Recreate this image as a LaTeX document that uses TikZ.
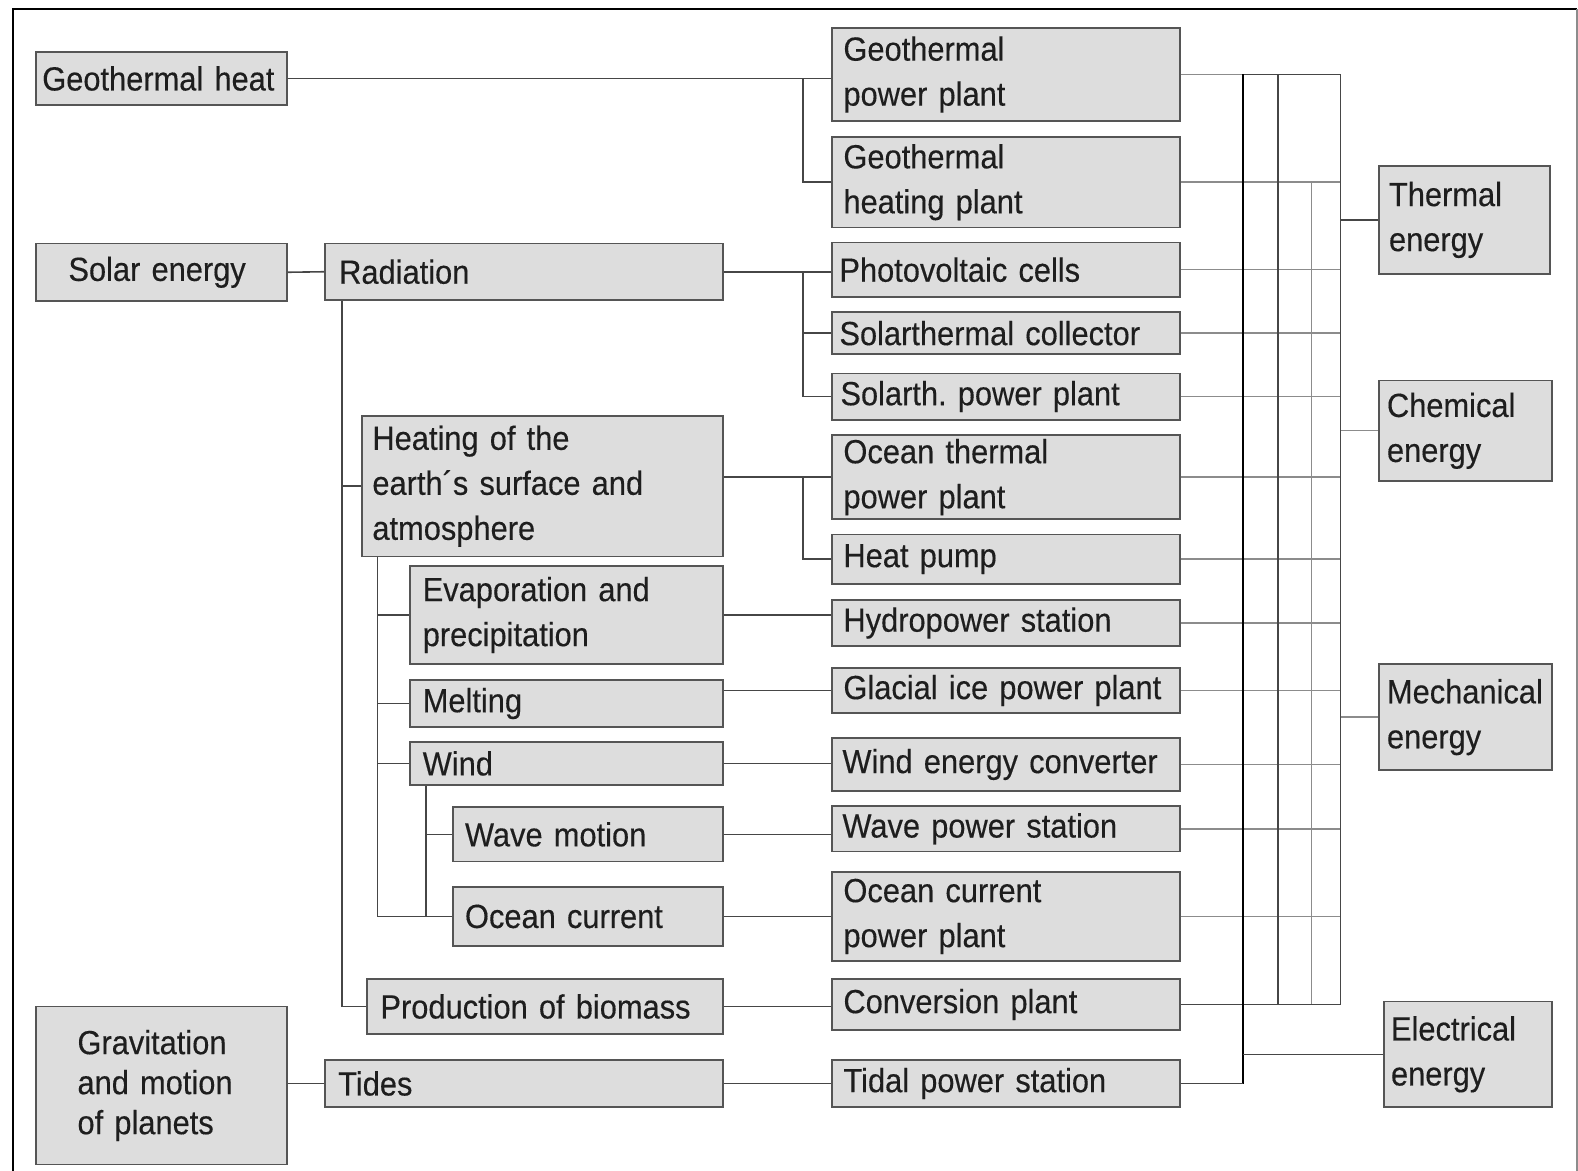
\documentclass[tikz,border=0pt]{standalone}
\usepackage{fontspec}
\setmainfont{Liberation Sans}[FakeStretch=0.92, FakeBold=0.3]
\frenchspacing
\definecolor{boxfill}{RGB}{221,221,221}
\definecolor{boxdraw}{RGB}{85,85,85}
\definecolor{linec}{RGB}{70,70,70}
\definecolor{lightc}{RGB}{140,140,140}
\definecolor{textc}{RGB}{30,30,30}
\newcommand\pxu{0.50325}
\tikzset{
  box/.style={draw=boxdraw, fill=boxfill, line width=0.9pt, rectangle, inner ysep=0pt,
    align=left, text=textc, font=\fontsize{16.75}{22.5}\selectfont},
  ln/.style={draw=linec, line width=0.8pt},
  lnl/.style={draw=lightc, line width=0.7pt},
  bus/.style={draw=black, line width=1.2pt},
}
\newcommand\bx[7][10]{%
  \pgfmathsetmacro\bw{(#5-#3)*\pxu}%
  \pgfmathsetmacro\bh{(#6-#4)*\pxu}%
  \pgfmathsetmacro\ix{#1*\pxu}%
  \pgfmathsetmacro\tw{\bw-2*\ix}%
  \node[box, minimum width=\bw pt, minimum height=\bh pt, inner xsep=\ix pt, text width=\tw pt]
    (#2) at ({(#3+#5)/2},{(#4+#6)/2}) {#7};}
\begin{document}
\begin{tikzpicture}[x={(0.50325pt,0)}, y={(0,-0.50325pt)}]
\useasboundingbox (0,0) rectangle (1567.8,1163.4);
% frame
\draw[black, line width=1.4pt] (13,1170) -- (13,9) -- (1567,9);
\draw[lightc, line width=0.8pt] (1567,9) -- (1567,1170);
% left column
\bx[6]{gh}{36}{52}{285}{104}{Geothermal heat}
\bx[32]{solar}{36}{242}{285}{299}{Solar energy}
\begin{scope}[box/.append style={font=\fontsize{16.75}{20}\selectfont}]
\bx[41]{grav}{36}{1000}{285}{1157}{Gravitation\\and motion\\of planets}
\end{scope}
% second column
\bx[14]{rad}{323}{242}{718}{298}{Radiation}
\bx[10]{heat}{360}{413}{718}{553}{Heating of the\\earth´s surface and\\atmosphere}
\bx[13]{evap}{407}{562}{718}{660}{Evaporation and\\precipitation}
\bx[13]{melt}{407}{676}{718}{722}{Melting}
\bx[13]{wind}{407}{737}{718}{780}{Wind}
\bx[12]{wave}{450}{802}{718}{856}{Wave motion}
\bx[12]{ocur}{450}{881}{718}{940}{Ocean current}
\bx[13]{bio}{365}{973}{718}{1027}{Production of biomass}
\bx[13]{tides}{323}{1053}{718}{1100}{Tides}
% plants
\bx[11]{gpp}{827}{28}{1172}{120}{Geothermal\\power plant}
\bx[11]{ghp}{827}{136}{1172}{226}{Geothermal\\heating plant}
\bx[7]{pv}{827}{241}{1172}{295}{Photovoltaic cells}
\bx[7]{sc}{827}{310}{1172}{352}{Solarthermal collector}
\bx[8]{sp}{827}{371}{1172}{417}{Solarth. power plant}
\bx[11]{otp}{827}{432}{1172}{516}{Ocean thermal\\power plant}
\bx[11]{hp}{827}{531}{1172}{580}{Heat pump}
\bx[11]{hyd}{827}{596}{1172}{642}{Hydropower station}
\bx[11]{gla}{827}{664}{1172}{708}{Glacial ice power plant}
\bx[10]{wec}{827}{733}{1172}{786}{Wind energy converter}
\bx[10]{wps}{827}{801}{1172}{846}{Wave power station}
\bx[11]{ocp}{827}{866}{1172}{955}{Ocean current\\power plant}
\bx[11]{conv}{827}{973}{1172}{1023}{Conversion plant}
\bx[11]{tps}{827}{1053}{1172}{1100}{Tidal power station}
% energies
\bx[10]{th}{1370}{165}{1540}{272}{Thermal\\energy}
\bx[8]{ch}{1370}{378}{1542}{478}{Chemical\\energy}
\bx[8]{me}{1370}{660}{1542}{765}{Mechanical\\energy}
\bx[7]{el}{1375}{995}{1542}{1100}{Electrical\\energy}
% bus coordinates
\coordinate (bA) at (798,0);
\coordinate (bR) at (340,0);
\coordinate (bH) at (375,0);
\coordinate (bW) at (423,0);
\coordinate (e1) at (1235,0);
\coordinate (e2) at (1270,0);
\coordinate (e3) at (1303,0);
\coordinate (e4) at (1332,0);
% left connectors
\draw[ln] (gh.east) -- (gh.east -| gpp.west);
\draw[ln] (gh.east -| bA) |- (ghp.west);
\draw[ln] (solar.east) -- (rad.west);
\draw[ln] (rad.east) -- (rad.east -| pv.west);
\draw[ln] (rad.east -| bA) |- (sp.west);
\draw[ln] (bA |- sc.west) -- (sc.west);
\draw[ln] (rad.south -| bR) |- (bio.west);
\draw[ln] (bR |- heat.west) -- (heat.west);
\draw[ln] (otp.west -| heat.east) -- (otp.west);
\draw[ln] (otp.west -| bA) |- (hp.west);
\draw[ln] (heat.south -| bH) |- (ocur.west);
\draw[ln] (bH |- evap.west) -- (evap.west);
\draw[ln] (bH |- melt.west) -- (melt.west);
\draw[ln] (bH |- wind.west) -- (wind.west);
\draw[ln] (wind.south -| bW) |- (ocur.west);
\draw[ln] (bW |- wave.west) -- (wave.west);
\draw[ln] (evap.east) -- (evap.east -| hyd.west);
\draw[ln] (gla.west -| melt.east) -- (gla.west);
\draw[ln] (wind.east) -- (wind.east -| wec.west);
\draw[ln] (wave.east) -- (wave.east -| wps.west);
\draw[ln] (ocur.east) -- (ocur.east -| ocp.west);
\draw[ln] (bio.east) -- (bio.east -| conv.west);
\draw[ln] (grav.east |- tides.west) -- (tides.west);
\draw[ln] (tides.east) -- (tps.west);
% right side: plant lines to buses
\foreach \p in {gpp,ghp,pv,sc,sp,otp,hp,hyd,gla,wec,wps,ocp,conv}{
  \draw[lnl] (\p.east) -- (\p.east -| e4);
}
\draw[ln] (gpp.east -| e1) -- (gpp.east -| e4);
\draw[ln] (conv.east) -- (conv.east -| e4);
\draw[ln] (gpp.east -| e2) -- (conv.east -| e2);
\draw[lnl] (ghp.east -| e3) -- (conv.east -| e3);
\draw[ln] (gpp.east -| e4) -- (conv.east -| e4);
\draw[bus] (gpp.east -| e1) -- (tps.east -| e1);
\draw[ln] (tps.east) -- (tps.east -| e1);
% energy connectors
\draw[ln] (th.west -| e4) -- (th.west);
\draw[lnl] (ch.west -| e4) -- (ch.west);
\draw[lnl] (me.west -| e4) -- (me.west);
\draw[ln] (el.west -| e1) -- (el.west);
\end{tikzpicture}
\end{document}
